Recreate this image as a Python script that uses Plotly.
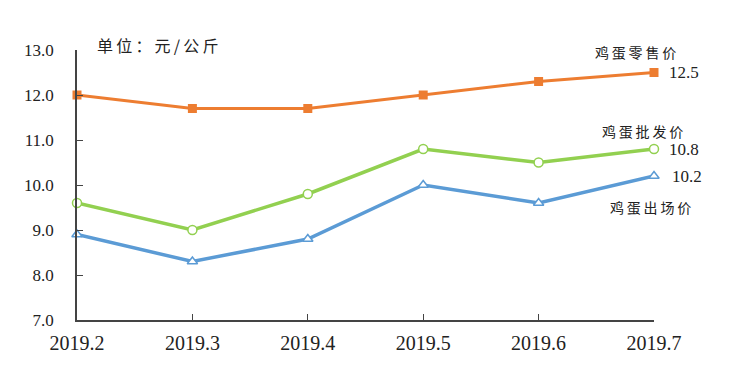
import plotly.graph_objects as go

categories = ["2019.2", "2019.3", "2019.4", "2019.5", "2019.6", "2019.7"]
retail = [12.0, 11.7, 11.7, 12.0, 12.3, 12.5]
wholesale = [9.6, 9.0, 9.8, 10.8, 10.5, 10.8]
farm = [8.9, 8.3, 8.8, 10.0, 9.6, 10.2]
y_ticks = [7.0, 8.0, 9.0, 10.0, 11.0, 12.0, 13.0]

xs = list(range(len(categories)))
num_font = "Liberation Serif"
cjk_font = "Noto Sans CJK SC"
TS = "\u2009"  # thin space for letter spacing


def spaced(s):
    return TS.join(list(s))


fig = go.Figure()
fig.add_trace(go.Scatter(x=xs, y=farm, mode="lines+markers", name="鸡蛋出场价",
                         line=dict(color="#5B9BD5", width=3.5),
                         marker=dict(symbol="triangle-up", size=9, color="white",
                                     line=dict(color="#5B9BD5", width=1.5)),
                         cliponaxis=False))
fig.add_trace(go.Scatter(x=xs, y=wholesale, mode="lines+markers", name="鸡蛋批发价",
                         line=dict(color="#92D050", width=3.5),
                         marker=dict(symbol="circle", size=9, color="white",
                                     line=dict(color="#92D050", width=1.5)),
                         cliponaxis=False))
fig.add_trace(go.Scatter(x=xs, y=retail, mode="lines+markers", name="鸡蛋零售价",
                         line=dict(color="#ED7D31", width=3),
                         marker=dict(symbol="square", size=9, color="#ED7D31"),
                         cliponaxis=False))

# unit label above the plot area
fig.add_annotation(x=0.032, y=1, xref="paper", yref="paper", yshift=5,
                   text=spaced("单位：元/公斤"), showarrow=False,
                   xanchor="left", yanchor="middle",
                   font=dict(family=cjk_font, size=16, color="#222"))

series_labels = [
    (4.84, 12.96, "鸡蛋零售价"),
    (4.90, 11.20, "鸡蛋批发价"),
    (4.97, 9.51, "鸡蛋出场价"),
]
for x, y, t in series_labels:
    fig.add_annotation(x=x, y=y, text=spaced(t), showarrow=False,
                       xanchor="center", yanchor="middle",
                       font=dict(family=cjk_font, size=14, color="#222"))

end_labels = [(retail[-1], 12.5, 13), (wholesale[-1], 10.8, 13), (farm[-1], 10.18, 16)]
for v, yy, shift in end_labels:
    fig.add_annotation(x=5, y=yy, text=f"{v:.1f}", showarrow=False,
                       xanchor="left", yanchor="middle", xshift=shift,
                       font=dict(family=num_font, size=17, color="#222"))

fig.update_layout(
    width=742, height=357,
    margin=dict(l=69, r=96, t=42, b=45, autoexpand=False),
    paper_bgcolor="white", plot_bgcolor="white",
    showlegend=False,
    xaxis=dict(range=[0, 5], tickvals=xs, ticktext=categories, showgrid=False,
               zeroline=False, showline=True, linecolor="#444", linewidth=1.5,
               ticks="inside", ticklen=6, tickcolor="#444", ticklabelstandoff=4,
               automargin=False,
               tickfont=dict(family=num_font, size=20, color="#222")),
    yaxis=dict(range=[7, 13], tickvals=y_ticks, ticktext=[f"{v:.1f}" for v in y_ticks],
               showgrid=False, zeroline=False, showline=True, linecolor="#444", linewidth=1.5,
               ticks="inside", ticklen=6, tickcolor="#444", ticklabelstandoff=18,
               automargin=False,
               tickfont=dict(family=num_font, size=17, color="#222")),
)

fig.write_html("out.html")
